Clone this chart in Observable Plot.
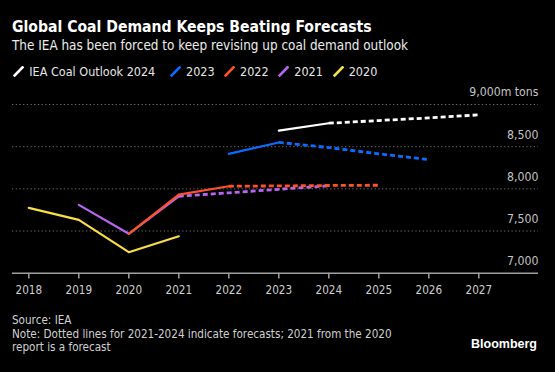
<!DOCTYPE html>
<html><head><meta charset="utf-8">
<script src="https://cdn.jsdelivr.net/npm/d3@7"></script>
<script src="https://cdn.jsdelivr.net/npm/@observablehq/plot@0.6"></script>
<style>
html,body{margin:0;padding:0;background:#000;}
#wrap{position:relative;width:555px;height:372px;overflow:hidden;background:#000;font-family:"DejaVu Sans Condensed","DejaVu Sans",sans-serif;}
.abs{position:absolute;white-space:nowrap;line-height:1;}
#title{left:12px;top:20.3px;font-size:15.6px;font-weight:bold;color:#fff;}
#subtitle{left:12px;top:38.6px;font-size:13.4px;color:#ececec;}
#legend{left:0;top:66.3px;width:555px;height:12px;font-size:12.5px;color:#e6e6e6;}
#legend .item{position:absolute;top:0;display:flex;align-items:center;height:12px;}
#legend svg{margin-right:5px;}
#chart{position:absolute;left:0;top:84px;}
.foot{left:12px;font-size:11.6px;color:#d0d0d0;}
#brand{right:18px;top:338px;font-size:12.5px;font-weight:bold;color:#fff;font-family:"Liberation Sans","Arial",sans-serif;}
</style></head><body><div id="wrap">
<div id="title" class="abs">Global Coal Demand Keeps Beating Forecasts</div>
<div id="subtitle" class="abs">The IEA has been forced to keep revising up coal demand outlook</div>
<div id="legend" class="abs"></div>
<div id="chart"></div>
<div class="abs foot" style="top:315.2px">Source: IEA</div>
<div class="abs foot" style="top:328.5px">Note: Dotted lines for 2021-2024 indicate forecasts; 2021 from the 2020</div>
<div class="abs foot" style="top:341.7px">report is a forecast</div>
<div id="brand" class="abs">Bloomberg</div>
</div>
<script>
const years = [2018, 2019, 2020, 2021, 2022, 2023, 2024, 2025, 2026, 2027];
const yTicks = [7000, 7500, 8000, 8500, 9000];
const yTickLabels = ["7,000", "7,500", "8,000", "8,500", "9,000m tons"];
const seriesNames = ["IEA Coal Outlook 2024", "2023", "2022", "2021", "2020"];
const seriesColors = ["#ffffff", "#0a6cff", "#ff5127", "#b865f5", "#f7df45"];
const legendLeft = [13.3, 170, 224, 278.3, 332.7];

// Each outlook: years covered, values (million tons), last non-forecast year
const outlook2024Years = [2023, 2024, 2025, 2026, 2027];
const outlook2024Values = [8690, 8778, 8810, 8841, 8877];
const outlook2023Years = [2022, 2023, 2024, 2025, 2026];
const outlook2023Values = [8415, 8550, 8490, 8415, 8347];
const outlook2022Years = [2020, 2021, 2022, 2023, 2024, 2025];
const outlook2022Values = [7467, 7932, 8031, 8035, 8040, 8043];
const outlook2021Years = [2019, 2020, 2021, 2022, 2023, 2024];
const outlook2021Values = [7810, 7467, 7912, 7953, 7995, 8036];
const outlook2020Years = [2018, 2019, 2020, 2021];
const outlook2020Values = [7775, 7633, 7249, 7438];
const lastSolidYear = [2024, 2023, 2022, 2021, 2021];

const seriesYears = [outlook2024Years, outlook2023Years, outlook2022Years, outlook2021Years, outlook2020Years];
const seriesValues = [outlook2024Values, outlook2023Values, outlook2022Values, outlook2021Values, outlook2020Values];

// legend
const legend = document.getElementById("legend");
seriesNames.forEach((name, i) => {
  const item = document.createElement("div");
  item.className = "item";
  item.style.left = legendLeft[i] + "px";
  item.innerHTML = `<svg width="11" height="12"><line x1="0.8" y1="10.4" x2="10.4" y2="0.4" stroke="${seriesColors[i]}" stroke-width="2.6" stroke-linecap="butt"/></svg><span>${name}</span>`;
  legend.appendChild(item);
});

const FONT = "DejaVu Sans Condensed, DejaVu Sans, sans-serif";
const marks = [
  Plot.ruleY(yTicks.filter(d => d > yTicks[0]), {stroke: "#6a6a6a", strokeWidth: 1, strokeDasharray: "1.3,2.4"}),
  Plot.ruleY([yTicks[0]], {stroke: "#a0a0a0", strokeWidth: 1.5}),
  Plot.axisX({ticks: years, tickFormat: d => String(d), label: null, tickSize: 5.7, tickPadding: 7.3, stroke: "#a0a0a0", strokeWidth: 1.5, color: "#cfcfcf", fontSize: 11.6, fontFamily: FONT}),
  Plot.text(yTicks, {y: d => d, text: (d, i) => yTickLabels[i], frameAnchor: "right", textAnchor: "end", dy: -12, fill: "#c4c4c4", fontSize: 12.2, fontFamily: FONT})
];

// draw from bottom (2020) to top (2024)
for (let i = seriesNames.length - 1; i >= 0; i--) {
  const rows = seriesYears[i].map((y, j) => ({year: y, value: seriesValues[i][j]}));
  const solid = rows.filter(r => r.year <= lastSolidYear[i]);
  const dashed = rows.filter(r => r.year >= lastSolidYear[i]);
  if (solid.length > 1) marks.push(Plot.line(solid, {x: "year", y: "value", stroke: seriesColors[i], strokeWidth: 2.2}));
  if (dashed.length > 1) marks.push(Plot.line(dashed, {x: "year", y: "value", stroke: seriesColors[i], strokeWidth: 2.8, strokeDasharray: "5,3", strokeLinecap: "butt"}));
}

const chart = Plot.plot({
  width: 555,
  height: 216,
  marginTop: 20,
  marginBottom: 27.3,
  marginLeft: 12,
  marginRight: 17,
  insetLeft: 16.3,
  insetRight: 59.7,
  x: {domain: [years[0], years[years.length - 1]], axis: null},
  y: {domain: [yTicks[0], yTicks[yTicks.length - 1]], axis: null},
  style: {background: "#000", color: "#cfcfcf", overflow: "visible"},
  marks
});
document.getElementById("chart").appendChild(chart);
</script>
</body></html>
